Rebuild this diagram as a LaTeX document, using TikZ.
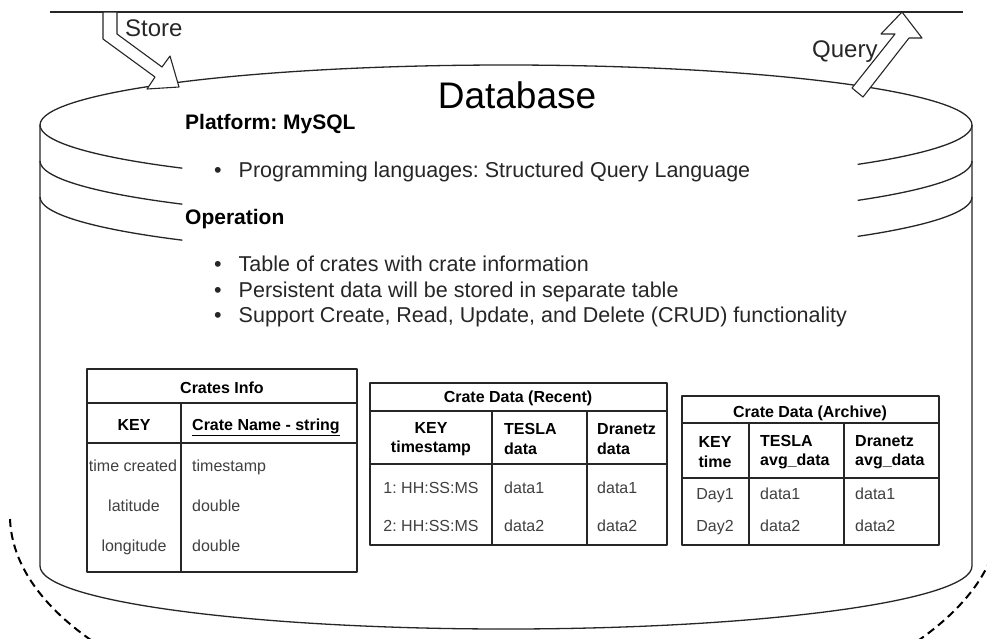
\documentclass[tikz,border=0pt]{standalone}
\usepackage{fontspec}
\setmainfont{Liberation Sans}
\frenchspacing
\usetikzlibrary{positioning}

\begin{document}
\begin{tikzpicture}[
  x=1pt,y=-1pt,
  line join=round,
  outline/.style={line width=1.3pt,black!85},
  flexarrow/.style={draw=black!85,fill=white,line width=1.1pt},
  tablebox/.style={line width=1.3pt,black!85},
  body/.style={font=\fontsize{21.5}{25}\selectfont,text=black!85,inner sep=0pt,anchor=base west},
  heading/.style={font=\bfseries\fontsize{21}{25}\selectfont,inner sep=0pt,anchor=base west},
  flowtext/.style={font=\fontsize{24}{28}\selectfont,text=black!85,inner sep=0pt,anchor=base west},
  tabletitle/.style={font=\bfseries\fontsize{16}{19}\selectfont,inner sep=0pt,anchor=base},
  colhead/.style={font=\bfseries\fontsize{16}{19.5}\selectfont,inner sep=0pt},
  cell/.style={font=\fontsize{16}{19}\selectfont,text=black!75,inner sep=0pt,anchor=base}
]
  \useasboundingbox (0,0) rectangle (987,638);
  \clip (0,0) rectangle (987,638);

  % outer dashed boundary and the line above
  \draw[line width=2pt,dash pattern=on 8pt off 5pt] (10,519) arc[start angle=179,end angle=1,x radius=495,y radius=228];
  \draw[outline] (50,12) -- (963,12);

  % database cylinder
  \draw[outline,fill=white] (40,125) arc[start angle=180,end angle=360,x radius=466,y radius=60]
    -- (972,566) arc[start angle=0,end angle=180,x radius=466,y radius=63] -- cycle;
  \foreach \k in {0,1,2} {
    \draw[outline] (40,125+36*\k) arc[start angle=180,end angle=134,x radius=466,y radius=60];
    \draw[outline] (972,125+36*\k) arc[start angle=0,end angle=41,x radius=466,y radius=60];
  }

  % store / query arrows
  \draw[flexarrow] (103,12) -- (103,39) -- (155,77) -- (147,89) -- (179,87) -- (170,56) -- (162,67) -- (117,34) -- (117,12) -- cycle;
  \draw[flexarrow] (852,88) -- (895,34) -- (881,34) -- (902,12) -- (922,38) -- (909,38) -- (863,97) -- cycle;
  \node[flowtext] (store) at (125,36) {Store};
  \node[flowtext] (query) at (812,57) {Query};

  % description
  \node[font=\fontsize{37}{42}\selectfont,inner sep=0pt] (dbname) at (517,95) {Database};
  \node[heading] (platform) at (185,129) {Platform: MySQL};
  \node[body] (lang) at (214,177) {\textbullet\hspace{17pt}Programming languages: Structured Query Language};
  \node[heading] (operation) at (185,224) {Operation};
  \node[body] (opa) at (214,271) {\textbullet\hspace{17pt}Table of crates with crate information};
  \node[body] (opb) at (214,297) {\textbullet\hspace{17pt}Persistent data will be stored in separate table};
  \node[body] (opc) at (214,322) {\textbullet\hspace{17pt}Support Create, Read, Update, and Delete (CRUD) functionality};

  % Crates Info
  \draw[tablebox] (87,369) rectangle (357,572);
  \draw[tablebox] (87,403) -- (357,403) (87,443) -- (357,443) (181,403) -- (181,572);
  \node[tabletitle] (infotitle) at (222,393) {Crates Info};
  \node[tabletitle] (infokey) at (134,430) {KEY};
  \node[tabletitle,anchor=base west] (infoname) at (192,430) {\underline{Crate Name - string}};
  \node[cell] (infotime) at (133,471) {time created};
  \node[cell] (infolat) at (134,511) {latitude};
  \node[cell] (infolon) at (134,551) {longitude};
  \node[cell,anchor=base west] (infotimev) at (192,471) {timestamp};
  \node[cell,anchor=base west] (infolatv) at (192,511) {double};
  \node[cell,anchor=base west] (infolonv) at (192,551) {double};

  % Crate Data (Recent)
  \draw[tablebox] (370,383) rectangle (667,545);
  \draw[tablebox] (370,411) -- (667,411) (370,464) -- (667,464) (492,411) -- (492,545) (587,411) -- (587,545);
  \node[tabletitle] (recenttitle) at (518,402) {Crate Data (Recent)};
  \node[colhead,align=center] (recentkey) at (431,439) {KEY\\timestamp};
  \node[colhead,align=left,anchor=west] (recenttesla) at (504,439) {TESLA\\data};
  \node[colhead,align=left,anchor=west] (recentdranetz) at (597,439) {Dranetz\\data};
  \node[cell] (recenta) at (431,493) {1: HH:SS:MS};
  \node[cell] (recentb) at (431,531) {2: HH:SS:MS};
  \node[cell,anchor=base west] (recentta) at (504,493) {data1};
  \node[cell,anchor=base west] (recenttb) at (504,531) {data2};
  \node[cell,anchor=base west] (recentda) at (597,493) {data1};
  \node[cell,anchor=base west] (recentdb) at (597,531) {data2};

  % Crate Data (Archive)
  \draw[tablebox] (682,396) rectangle (939,545);
  \draw[tablebox] (682,423) -- (939,423) (682,478) -- (939,478) (749,423) -- (749,545) (844,423) -- (844,545);
  \node[tabletitle] (archivetitle) at (810,417) {Crate Data (Archive)};
  \node[colhead,align=center] (archivekey) at (715,452) {KEY\\time};
  \node[colhead,align=left,anchor=west] (archivetesla) at (760,452) {TESLA\\avg\_data};
  \node[colhead,align=left,anchor=west] (archivedranetz) at (855,452) {Dranetz\\avg\_data};
  \node[cell] (archivea) at (715,499) {Day1};
  \node[cell] (archiveb) at (715,531) {Day2};
  \node[cell,anchor=base west] (archiveta) at (760,499) {data1};
  \node[cell,anchor=base west] (archivetb) at (760,531) {data2};
  \node[cell,anchor=base west] (archiveda) at (855,499) {data1};
  \node[cell,anchor=base west] (archivedb) at (855,531) {data2};
\end{tikzpicture}
\end{document}
